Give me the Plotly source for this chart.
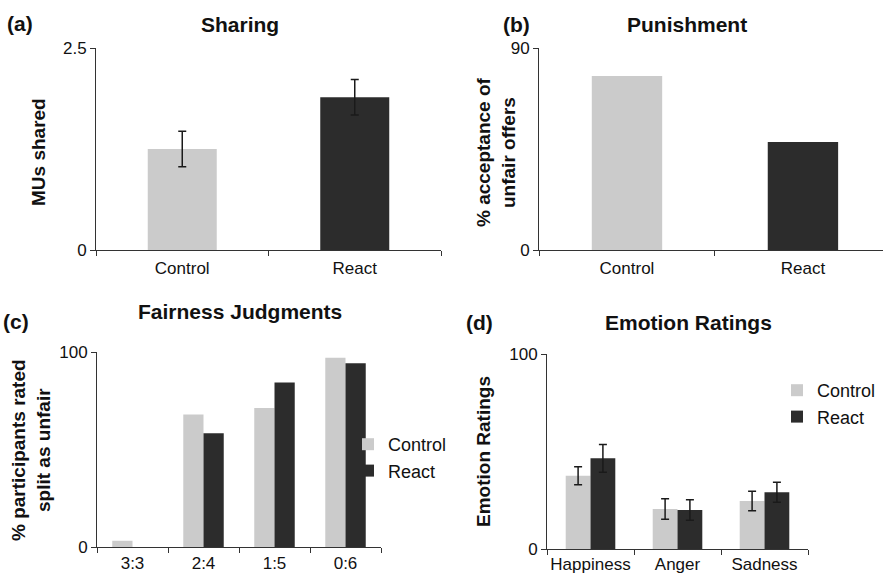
import plotly.graph_objects as go

# ---------------- data ----------------
groups = ["Control", "React"]

sharing_vals = [1.25, 1.89]
sharing_err = [0.22, 0.22]

punish_vals = [77.5, 48.1]

splits = ["3:3", "2:4", "1:5", "0:6"]
fair_control = [3.2, 68.0, 71.3, 97.1]
fair_react = [0.0, 58.3, 84.3, 94.2]

emotions = ["Happiness", "Anger", "Sadness"]
emo_control = [37.6, 20.5, 24.6]
emo_control_err = [4.6, 5.3, 5.0]
emo_react = [46.5, 20.0, 29.1]
emo_react_err = [7.1, 5.3, 5.1]

LIGHT = "#cbcbcb"
DARK = "#2c2c2c"
AXC = "#333333"
FONT = "Liberation Sans, Arial, Helvetica, sans-serif"
W, H = 883, 575

fig = go.Figure()

err_style = dict(type="data", color="#1a1a1a", thickness=1.5, width=4, visible=True)

# (a) Sharing
fig.add_trace(go.Bar(x=groups, y=sharing_vals, marker_color=[LIGHT, DARK],
                     marker_line_width=0, width=0.4, showlegend=False,
                     error_y=dict(array=sharing_err, **err_style),
                     xaxis="x", yaxis="y"))
# (b) Punishment
fig.add_trace(go.Bar(x=groups, y=punish_vals, marker_color=[LIGHT, DARK],
                     marker_line_width=0, width=0.4, showlegend=False,
                     xaxis="x2", yaxis="y2"))
# (c) Fairness
fig.add_trace(go.Bar(x=splits, y=fair_control, name="Control", marker_color=LIGHT,
                     marker_line_width=0, legend="legend", xaxis="x3", yaxis="y3"))
fig.add_trace(go.Bar(x=splits, y=fair_react, name="React", marker_color=DARK,
                     marker_line_width=0, legend="legend", xaxis="x3", yaxis="y3"))
# (d) Emotion
fig.add_trace(go.Bar(x=emotions, y=emo_control, name="Control", marker_color=LIGHT,
                     marker_line_width=0, legend="legend2",
                     error_y=dict(array=emo_control_err, **err_style),
                     xaxis="x4", yaxis="y4"))
fig.add_trace(go.Bar(x=emotions, y=emo_react, name="React", marker_color=DARK,
                     marker_line_width=0, legend="legend2",
                     error_y=dict(array=emo_react_err, **err_style),
                     xaxis="x4", yaxis="y4"))


def px_x(p):
    return p / W


def px_y(p):
    return 1 - p / H


def xax(domain, anchor, rng, standoff=3):
    return dict(domain=domain, anchor=anchor, type="category", range=rng,
                showline=True, linecolor=AXC, linewidth=1, ticks="outside",
                tickson="boundaries", ticklen=5, tickcolor=AXC, tickangle=0,
                automargin=False, ticklabelstandoff=standoff,
                tickfont=dict(size=17, color="#111", family=FONT),
                showgrid=False, zeroline=False, fixedrange=True)


def yax(domain, anchor, rng, tv):
    return dict(domain=domain, anchor=anchor, range=rng, tickvals=tv,
                showline=True, linecolor=AXC, linewidth=1, ticks="outside",
                ticklen=5, tickcolor=AXC, automargin=False,
                tickfont=dict(size=17, color="#111", family=FONT),
                showgrid=False, zeroline=False, fixedrange=True)


fig.update_layout(
    width=W, height=H,
    margin=dict(l=0, r=0, t=0, b=0, autoexpand=False),
    paper_bgcolor="white", plot_bgcolor="white",
    font=dict(family=FONT, color="#111"),
    barmode="group", bargap=0.43, bargroupgap=0,
    xaxis=xax([px_x(96), px_x(441)], "y", [-0.5, 1.5]),
    yaxis=yax([px_y(250), px_y(48)], "x", [0, 2.5], [0, 2.5]),
    xaxis2=xax([px_x(539), 1.0], "y2", [-0.5, 1.455]),
    yaxis2=yax([px_y(250), px_y(48)], "x2", [0, 90], [0, 90]),
    xaxis3=xax([px_x(97), px_x(381)], "y3", [-0.5, 3.5], standoff=1),
    yaxis3=yax([px_y(547), px_y(352)], "x3", [0, 100], [0, 100]),
    xaxis4=xax([px_x(547), px_x(808)], "y4", [-0.5, 2.5], standoff=0),
    yaxis4=yax([px_y(549), px_y(354)], "x4", [0, 100], [0, 100]),
    legend=dict(x=px_x(348), y=px_y(426), xanchor="left", yanchor="top",
                font=dict(size=18, family=FONT, color="#111"),
                bgcolor="rgba(0,0,0,0)", itemwidth=30, traceorder="normal"),
    legend2=dict(x=px_x(777), y=px_y(372), xanchor="left", yanchor="top",
                 font=dict(size=18, family=FONT, color="#111"),
                 bgcolor="rgba(0,0,0,0)", itemwidth=30, traceorder="normal"),
)

ann = []


def txt(x, y, s, size, bold=True, angle=0):
    ann.append(dict(x=px_x(x), y=px_y(y), xref="paper", yref="paper", text=s,
                    showarrow=False, xanchor="center", yanchor="middle",
                    textangle=angle,
                    font=dict(size=size, family=FONT, color="#111",
                              weight="bold" if bold else "normal")))


# titles
txt(240, 25, "Sharing", 21)
txt(687, 25, "Punishment", 21)
txt(240, 311, "Fairness Judgments", 21)
txt(688, 322, "Emotion Ratings", 21)
# panel letters
txt(20, 23, "(a)", 21)
txt(516, 24, "(b)", 21)
txt(16, 321, "(c)", 21)
txt(479, 322, "(d)", 21)
# y-axis titles
txt(38, 152, "MUs shared", 19, angle=-90)
txt(496, 152, "% acceptance of<br>unfair offers", 19, angle=-90)
txt(31, 450, "% participants rated<br>split as unfair", 19, angle=-90)
txt(483, 452, "Emotion Ratings", 19, angle=-90)

fig.update_layout(annotations=ann)

fig.write_html(
    "out.html",
    config={"displayModeBar": False},
    post_script="document.body.style.margin='0px';document.body.style.padding='0px';"
                "document.body.style.overflow='hidden';",
)
